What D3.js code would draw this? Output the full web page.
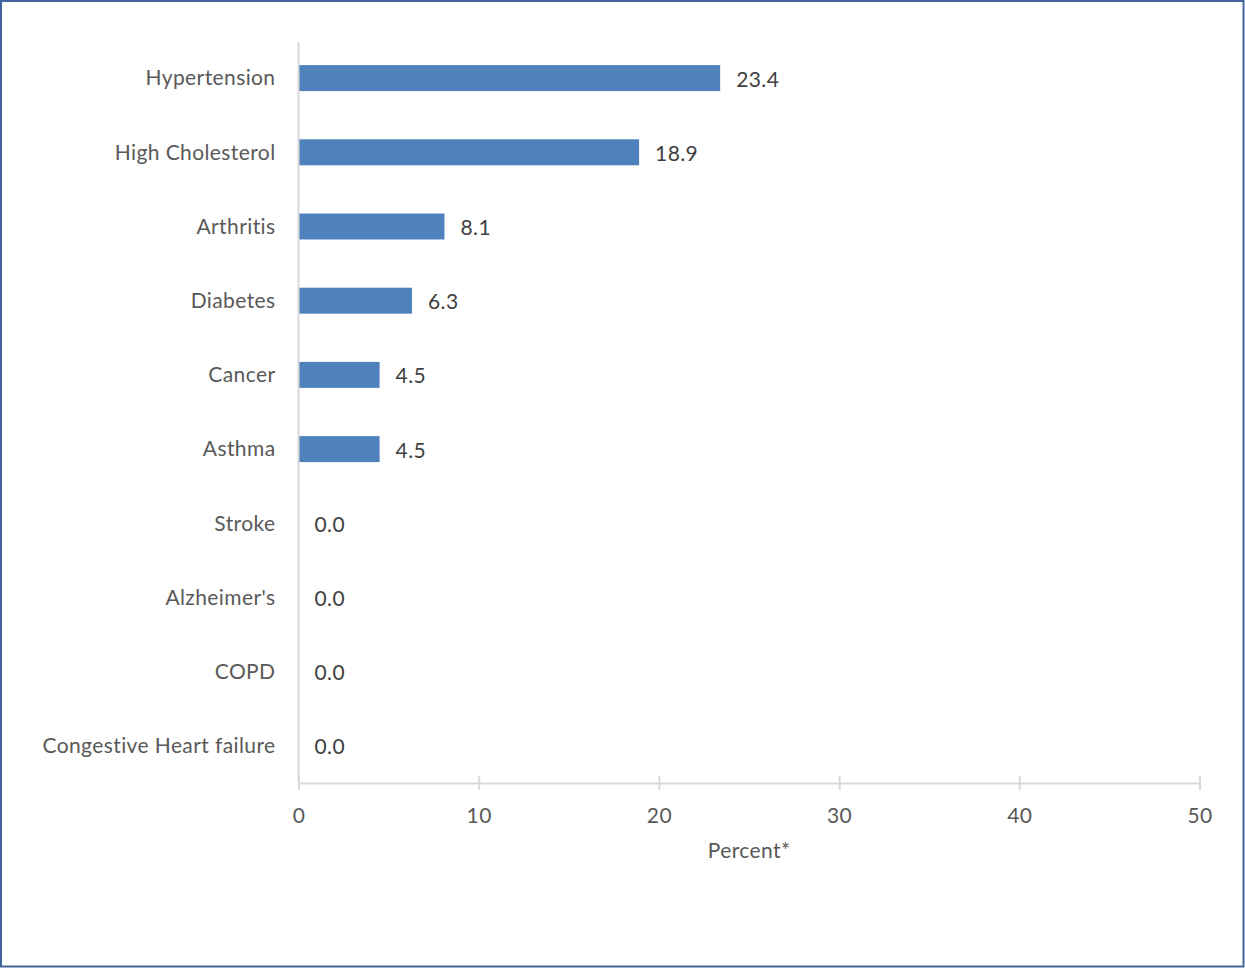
<!DOCTYPE html>
<html><head><meta charset="utf-8">
<script src="https://cdn.jsdelivr.net/npm/d3@7"></script>
<style>html,body{margin:0;padding:0;background:#fff}svg{display:block}</style>
</head><body>
<script>
const categories = ["Hypertension","High Cholesterol","Arthritis","Diabetes","Cancer","Asthma","Stroke","Alzheimer's","COPD","Congestive Heart failure"];
const values = [23.4,18.9,8.1,6.3,4.5,4.5,0.0,0.0,0.0,0.0];
const xTicks = [0,10,20,30,40,50];
const xTitle = "Percent*";

const W = 1245, H = 968;
const FONT = "Lato, 'Open Sans', sans-serif";
const svg = d3.select("body").append("svg").attr("width", W).attr("height", H);
svg.append("rect").attr("x",1).attr("y",1).attr("width",W-2.5).attr("height",H-2.5)
  .attr("fill","#fff").attr("stroke","#41659b").attr("stroke-width",2);

const pLeft = 298.5, pRight = 1199.5, pTop = 41, pBottom = 783;
const x = d3.scaleLinear().domain([0,50]).range([pLeft,pRight]);
const y = d3.scaleBand().domain(categories).range([pTop,pBottom]).paddingInner(0.65).paddingOuter(0.325);

// bars
svg.append("g").selectAll("rect").data(categories).join("rect")
  .attr("x", x(0)).attr("y", d=>y(d))
  .attr("width", (d,i)=>x(values[i])-x(0)).attr("height", y.bandwidth())
  .attr("fill","#4f81bd");

// y axis line
svg.append("line").attr("x1",pLeft).attr("x2",pLeft).attr("y1",pTop+1).attr("y2",pBottom)
  .attr("stroke","#d9d9d9").attr("stroke-width",2);

// x axis
const xa = svg.append("g").attr("transform",`translate(0,${pBottom})`)
  .call(d3.axisBottom(x).tickValues(xTicks).tickSize(7).tickPadding(18).tickFormat(d3.format("d")));
xa.select(".domain").attr("stroke","#d9d9d9").attr("stroke-width",2);
xa.selectAll(".tick line").attr("stroke","#d9d9d9").attr("stroke-width",2).attr("y1",-7).attr("y2",7);
xa.selectAll(".tick text").attr("fill","#595959").style("font-family",FONT).style("font-size","21px").style("letter-spacing","0.4px");

// category labels
svg.append("g").selectAll("text").data(categories).join("text")
  .attr("x", pLeft-23).attr("y", d=>y(d)+y.bandwidth()/2).attr("dy","0.35em")
  .attr("text-anchor","end").attr("fill","#595959")
  .style("font-family",FONT).style("font-size","21px").style("letter-spacing","0.4px").text(d=>d);

// value labels
svg.append("g").selectAll("text").data(categories).join("text")
  .attr("x", (d,i)=>x(values[i])+16).attr("y", d=>y(d)+y.bandwidth()/2).attr("dy","0.4em")
  .attr("fill","#404040")
  .style("font-family",FONT).style("font-size","21px").style("letter-spacing","0.4px").text((d,i)=>d3.format(".1f")(values[i]));

// axis title
svg.append("text").attr("x",(pLeft+pRight)/2).attr("y",858).attr("text-anchor","middle")
  .attr("fill","#595959").style("font-family",FONT).style("font-size","21px").style("letter-spacing","0.4px").text(xTitle);
</script>
</body></html>
